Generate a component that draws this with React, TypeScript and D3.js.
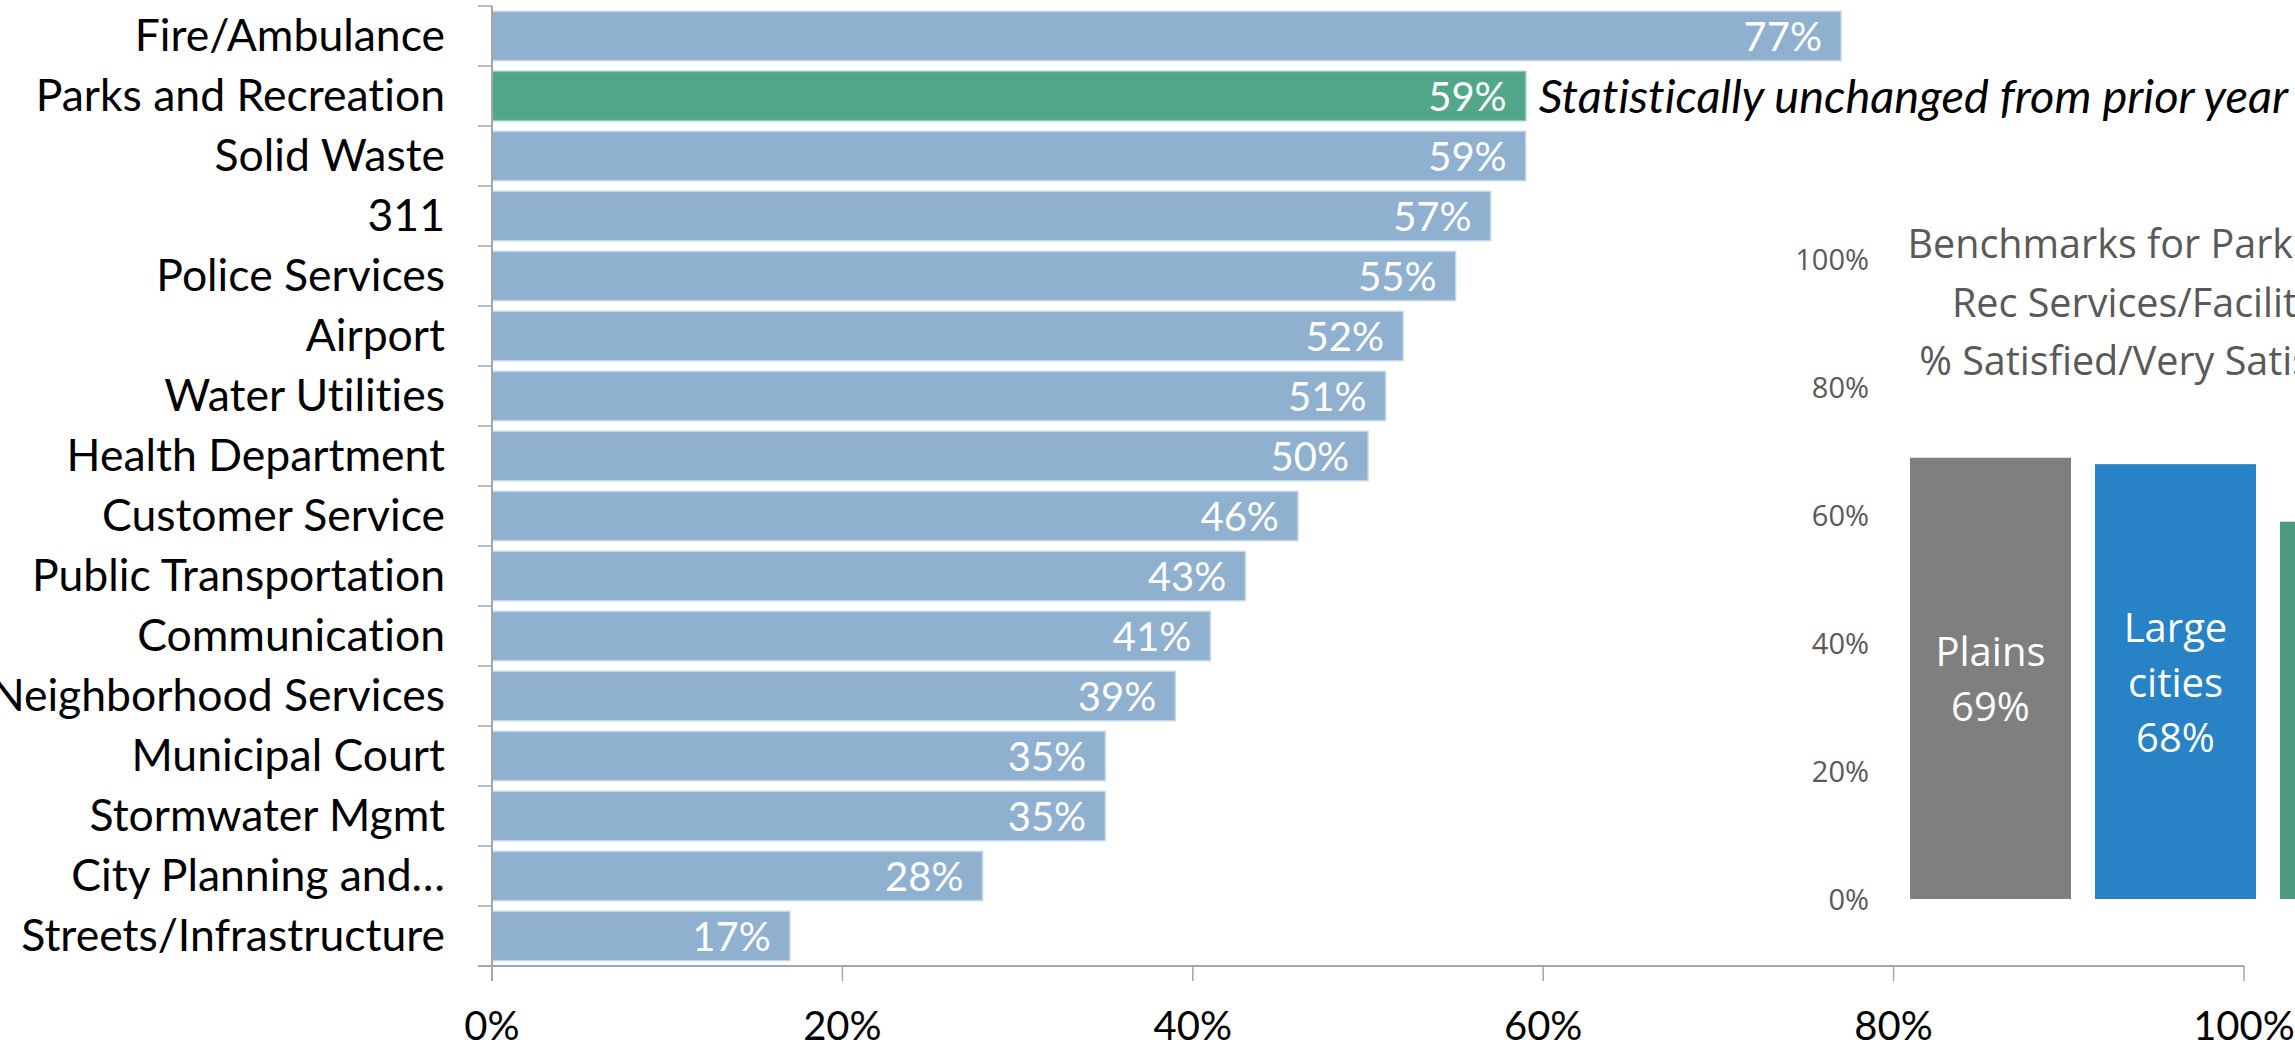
import React from "react";
import * as d3 from "d3";

const categories = [
  "Fire/Ambulance",
  "Parks and Recreation",
  "Solid Waste",
  "311",
  "Police Services",
  "Airport",
  "Water Utilities",
  "Health Department",
  "Customer Service",
  "Public Transportation",
  "Communication",
  "Neighborhood Services",
  "Municipal Court",
  "Stormwater Mgmt",
  "City Planning and…",
  "Streets/Infrastructure",
];
const satisfaction = [0.77, 0.59, 0.59, 0.57, 0.55, 0.52, 0.51, 0.5, 0.46, 0.43, 0.41, 0.39, 0.35, 0.35, 0.28, 0.17];
const highlighted = "Parks and Recreation";
const annotation = "Statistically unchanged from prior year";
const xTicks = [0, 0.2, 0.4, 0.6, 0.8, 1.0];

const benchCategories = ["Plains", "Large cities", "Kansas City"];
const benchLabelLines = [["Plains"], ["Large", "cities"], ["Kansas", "City"]];
const benchValues = [0.69, 0.68, 0.59];
const benchColors = ["#7F7F7F", "#2782C6", "#4A9B7F"];
const benchTicks = [0, 0.2, 0.4, 0.6, 0.8, 1.0];
const benchTitle = ["Benchmarks for Parks and", "Rec Services/Facilities", "% Satisfied/Very Satisfied"];

const W = 2295;
const H = 1048;
const pct = d3.format(".0%");

export default function App() {
  const x = d3.scaleLinear().domain([0, 1]).range([492, 2244]);
  const y = d3.scaleBand<string>().domain(categories).range([6, 966]).paddingInner(0.18).paddingOuter(0.09);
  const step = y.step();
  const boundaries = d3.range(categories.length + 1).map((i) => 6 + i * step);

  const bx = d3.scaleBand<string>().domain(benchCategories).range([1898, 2453]).paddingInner(0.13).paddingOuter(0.065);
  const by = d3.scaleLinear().domain([0, 1]).range([899, 259.5]);

  const mainFont = "Lato, 'Open Sans', sans-serif";
  const insetFont = "'Open Sans', sans-serif";
  const axisColor = "#A6A6A6";
  const noLig = { fontVariantLigatures: "none" as const, fontFeatureSettings: '"liga" 0, "clig" 0' };

  return (
    <div>
      <style>{`html,body{margin:0;padding:0;overflow:hidden;background:#fff}`}</style>
      <svg width={W} height={H} viewBox={`0 0 ${W} ${H}`} style={{ display: "block" }}>
        <rect x={0} y={0} width={W} height={H} fill="#fff" />

        {/* main bars */}
        {categories.map((c, i) => {
          const v = satisfaction[i];
          const y0 = y(c) as number;
          const isHi = c === highlighted;
          return (
            <g key={c}>
              <rect
                x={x(0)}
                y={y0}
                width={x(v) - x(0)}
                height={y.bandwidth()}
                fill={isHi ? "#52A78A" : "#8FB0CF"}
                stroke={isHi ? "#8CCAB4" : "#C3D5E7"}
                strokeWidth={1.5}
              />
              <text
                x={x(v) - 19}
                y={y0 + y.bandwidth() / 2 + 15}
                textAnchor="end"
                fill="#fff"
                fontFamily={mainFont}
                fontSize={40}
                style={noLig}
              >
                {pct(v)}
              </text>
              <text
                x={445}
                y={y0 + y.bandwidth() / 2 + 15}
                textAnchor="end"
                fill="#000"
                fontFamily={mainFont}
                fontSize={44.5}
                style={noLig}
              >
                {c}
              </text>
              {isHi && (
                <text
                  x={x(v) + 13}
                  y={y0 + y.bandwidth() / 2 + 17}
                  fill="#000"
                  fontFamily={mainFont}
                  fontStyle="italic"
                  fontSize={47}
                  style={noLig}
                >
                  {annotation}
                </text>
              )}
            </g>
          );
        })}

        {/* y axis */}
        <line x1={x(0)} x2={x(0)} y1={6} y2={981} stroke={axisColor} strokeWidth={2} />
        {boundaries.map((b, i) => (
          <line key={i} x1={478} x2={x(0)} y1={b} y2={b} stroke={axisColor} strokeWidth={1.5} />
        ))}
        {/* x axis */}
        <line x1={478} x2={x(1)} y1={966} y2={966} stroke={axisColor} strokeWidth={2} />
        {xTicks.map((t) => (
          <g key={t}>
            <line x1={x(t)} x2={x(t)} y1={966} y2={981} stroke={axisColor} strokeWidth={1.5} />
            <text x={x(t)} y={1040} textAnchor="middle" fill="#000" fontFamily={mainFont} fontSize={40} style={noLig}>
              {pct(t)}
            </text>
          </g>
        ))}

        {/* inset benchmark chart */}
        {benchTitle.map((line, i) => (
          <text key={i} x={2150} y={258 + i * 58.5} textAnchor="middle" fill="#595959" fontFamily={insetFont} fontSize={39.5}>
            {line}
          </text>
        ))}
        {benchTicks.map((t) => (
          <text key={t} x={1869} y={by(t) + 10.5} textAnchor="end" fill="#595959" fontFamily={insetFont} fontSize={29}>
            {pct(t)}
          </text>
        ))}
        {benchCategories.map((c, i) => {
          const v = benchValues[i];
          const x0 = bx(c) as number;
          const top = by(v);
          const mid = (top + by(0)) / 2;
          const lines = [...benchLabelLines[i], pct(v)];
          return (
            <g key={c}>
              <rect x={x0} y={top} width={bx.bandwidth()} height={by(0) - top} fill={benchColors[i]} />
              {lines.map((l, j) => (
                <text
                  key={j}
                  x={x0 + bx.bandwidth() / 2}
                  y={mid - ((lines.length - 1) / 2) * 55 + j * 55 + 15}
                  textAnchor="middle"
                  fill="#fff"
                  fontFamily={insetFont}
                  fontSize={40}
                >
                  {l}
                </text>
              ))}
            </g>
          );
        })}
      </svg>
    </div>
  );
}
